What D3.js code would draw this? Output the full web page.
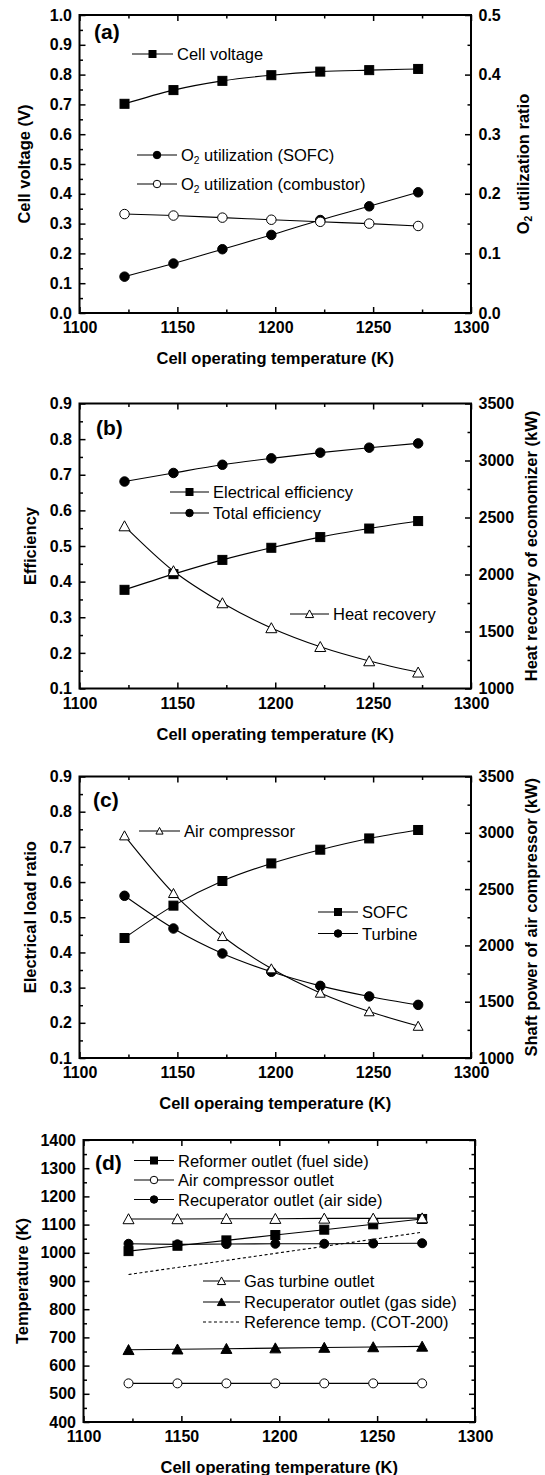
<!DOCTYPE html>
<html><head><meta charset="utf-8">
<script src="https://cdn.jsdelivr.net/npm/d3@7"></script>
<style>
body{margin:0;background:#fff}
svg{display:block}
text{font-family:"Liberation Sans",Arial,Helvetica,sans-serif;fill:#000}
</style>
</head><body>
<svg id="chart" width="545" height="1475"></svg>
<script>
// ---------- data ----------
const temps = [1123, 1148, 1173, 1198, 1223, 1248, 1273];
const xTickValues = [1100, 1150, 1200, 1250, 1300];

// panel (a)
const cellVoltage = [0.702, 0.748, 0.779, 0.798, 0.810, 0.815, 0.819];
const o2UtilSofc = [0.061, 0.083, 0.107, 0.131, 0.156, 0.179, 0.2025];
const o2UtilComb = [0.166, 0.1635, 0.160, 0.1565, 0.153, 0.150, 0.146];
const aLeftTicks = [0.0, 0.1, 0.2, 0.3, 0.4, 0.5, 0.6, 0.7, 0.8, 0.9, 1.0];
const aRightTicks = [0.0, 0.1, 0.2, 0.3, 0.4, 0.5];

// panel (b)
const elecEfficiency = [0.377, 0.421, 0.461, 0.495, 0.525, 0.549, 0.570];
const totalEfficiency = [0.681, 0.705, 0.728, 0.746, 0.762, 0.776, 0.788];
const heatRecovery = [2425, 2031, 1750, 1531, 1366, 1241, 1142];
const effTicks = [0.1, 0.2, 0.3, 0.4, 0.5, 0.6, 0.7, 0.8, 0.9];
const kwTicks = [1000, 1500, 2000, 2500, 3000, 3500];

// panel (c)
const loadSofc = [0.441, 0.533, 0.603, 0.653, 0.692, 0.724, 0.748];
const loadTurbine = [0.561, 0.468, 0.397, 0.345, 0.305, 0.275, 0.251];
const compressorPower = [2975, 2463, 2081, 1794, 1578, 1413, 1284];

// panel (d)
const reformerOutlet = [1006, 1025, 1044, 1063, 1082, 1101, 1120];
const airCompOutlet = [537, 537, 537, 537, 537, 537, 537];
const recupAirOutlet = [1032, 1030, 1031, 1032, 1032, 1033, 1034];
const gasTurbineOutlet = [1120, 1120, 1121, 1121, 1122, 1122, 1123];
const recupGasOutlet = [656, 658, 660, 662, 664, 666, 668];
const referenceTemp = [923, 948, 973, 998, 1023, 1048, 1073];
const tempTicks = [400, 500, 600, 700, 800, 900, 1000, 1100, 1200, 1300, 1400];

// ---------- drawing ----------
const svg = d3.select("#chart");
const FS_TICK = 16, FS_TITLE = 16.5, FS_LEG = 16.5;

function mids(arr) { return d3.pairs(arr).map(p => (p[0] + p[1]) / 2); }

function addParts(sel, parts, size) {
  parts.forEach(p => {
    if (p.sub) {
      sel.append("tspan").attr("font-size", size * 0.62).attr("dy", size * 0.28).text(p.t);
    } else if (p.after) {
      sel.append("tspan").attr("dy", -size * 0.28).text(p.t);
    } else {
      sel.append("tspan").text(p.t);
    }
  });
}

function marker(g, type, fill, cx, cy, s) {
  if (type === "square") {
    g.append("rect").attr("x", cx - s / 2).attr("y", cy - s / 2).attr("width", s).attr("height", s)
      .attr("fill", fill).attr("stroke", "#000").attr("stroke-width", 1);
  } else if (type === "circle") {
    g.append("circle").attr("cx", cx).attr("cy", cy).attr("r", s / 2)
      .attr("fill", fill).attr("stroke", "#000").attr("stroke-width", 1);
  } else if (type === "triangle") {
    const w = s * 1.1, h = s * 0.95;
    g.append("path").attr("d", `M${cx},${cy - h / 2 - 0.5}L${cx + w / 2},${cy + h / 2}L${cx - w / 2},${cy + h / 2}Z`)
      .attr("fill", fill).attr("stroke", "#000").attr("stroke-width", 1);
  }
}

function styleAxis(a, labels) {
  a.select(".domain").remove();
  a.attr("font-family", null).attr("font-size", null);
  a.selectAll(".tick line").attr("stroke", "#000").attr("stroke-width", 1.5);
  if (labels) a.selectAll(".tick text").attr("font-size", FS_TICK).attr("font-weight", "bold").attr("fill", "#000");
  else a.selectAll(".tick text").remove();
}

function drawPanel(c) {
  const g = svg.append("g");
  const x = d3.scaleLinear().domain([1100, 1300]).range([c.left, c.right]);
  const y = d3.scaleLinear().domain([c.yTicks[0], c.yTicks[c.yTicks.length - 1]]).range([c.bottom, c.top]);
  const y2 = c.y2Ticks ? d3.scaleLinear().domain([c.y2Ticks[0], c.y2Ticks[c.y2Ticks.length - 1]]).range([c.bottom, c.top]) : y;
  const xMinor = mids(xTickValues);
  const MJ = 6, MN = 3.5;

  // x axes
  styleAxis(g.append("g").attr("transform", `translate(0,${c.bottom})`)
    .call(d3.axisBottom(x).tickValues(xTickValues).tickSize(-MJ).tickPadding(9).tickFormat(d3.format("d"))), true);
  styleAxis(g.append("g").attr("transform", `translate(0,${c.bottom})`)
    .call(d3.axisBottom(x).tickValues(xMinor).tickSize(-MN)), false);
  styleAxis(g.append("g").attr("transform", `translate(0,${c.top})`)
    .call(d3.axisTop(x).tickValues(xTickValues).tickSize(-MJ)), false);
  styleAxis(g.append("g").attr("transform", `translate(0,${c.top})`)
    .call(d3.axisTop(x).tickValues(xMinor).tickSize(-MN)), false);
  // left axes
  styleAxis(g.append("g").attr("transform", `translate(${c.left},0)`)
    .call(d3.axisLeft(y).tickValues(c.yTicks).tickSize(-MJ).tickPadding(7.5).tickFormat(c.yFmt)), true);
  styleAxis(g.append("g").attr("transform", `translate(${c.left},0)`)
    .call(d3.axisLeft(y).tickValues(mids(c.yTicks)).tickSize(-MN)), false);
  // right axes
  const rT = c.y2Ticks || c.yTicks;
  styleAxis(g.append("g").attr("transform", `translate(${c.right},0)`)
    .call(d3.axisRight(y2).tickValues(rT).tickSize(-MJ).tickPadding(7.5).tickFormat(c.y2Fmt || c.yFmt)), !!c.y2Ticks);
  styleAxis(g.append("g").attr("transform", `translate(${c.right},0)`)
    .call(d3.axisRight(y2).tickValues(mids(rT)).tickSize(-MN)), false);

  // frame
  g.append("rect").attr("x", c.left).attr("y", c.top).attr("width", c.right - c.left).attr("height", c.bottom - c.top)
    .attr("fill", "none").attr("stroke", "#000").attr("stroke-width", 2);

  // series
  c.series.forEach(s => {
    const ys = s.right ? y2 : y;
    const line = d3.line().x((d, i) => x(temps[i])).y(d => ys(d)).curve(s.smooth ? d3.curveMonotoneX : d3.curveLinear);
    g.append("path").attr("d", line(s.data)).attr("fill", "none").attr("stroke", "#000")
      .attr("stroke-width", 1.1).attr("stroke-dasharray", s.dashed ? "3,2.5" : null);
    if (s.marker) s.data.forEach((d, i) => marker(g, s.marker, s.fill, x(temps[i]), ys(d), s.size));
  });

  // legend
  c.legend.forEach(l => {
    g.append("line").attr("x1", l.x1).attr("x2", l.x2).attr("y1", l.y).attr("y2", l.y)
      .attr("stroke", "#000").attr("stroke-width", 1.1).attr("stroke-dasharray", l.dashed ? "3,2.5" : null);
    if (l.marker) marker(g, l.marker, l.fill, (l.x1 + l.x2) / 2, l.y, l.size);
    const t = g.append("text").attr("x", l.x2 + 4).attr("y", l.y).attr("dominant-baseline", "central")
      .attr("font-size", FS_LEG);
    addParts(t, l.parts, FS_LEG);
  });

  // tag
  g.append("text").attr("x", c.tagX).attr("y", c.tagY).attr("dominant-baseline", "central")
    .attr("font-size", 21).attr("font-weight", "bold").text(c.tag);

  // titles
  g.append("text").attr("x", (c.left + c.right) / 2).attr("y", c.bottom + 45).attr("text-anchor", "middle")
    .attr("dominant-baseline", "central").attr("font-size", FS_TITLE).attr("font-weight", "bold").text(c.xTitle);
  const yc = (c.top + c.bottom) / 2;
  const lt = g.append("text").attr("transform", `translate(${c.yTitleX},${yc}) rotate(-90)`).attr("text-anchor", "middle")
    .attr("dominant-baseline", "central").attr("font-size", FS_TITLE).attr("font-weight", "bold");
  addParts(lt, c.yTitle, FS_TITLE);
  if (c.y2Title) {
    const rt = g.append("text").attr("transform", `translate(${c.y2TitleX},${yc}) rotate(-90)`).attr("text-anchor", "middle")
      .attr("dominant-baseline", "central").attr("font-size", FS_TITLE).attr("font-weight", "bold");
    addParts(rt, c.y2Title, FS_TITLE);
  }
}

const f1 = d3.format(".1f"), fd = d3.format("d");
const XT = "Cell operating temperature (K)";

drawPanel({
  top: 15, bottom: 313, left: 79.5, right: 471,
  yTicks: aLeftTicks, yFmt: f1, y2Ticks: aRightTicks, y2Fmt: f1,
  yTitle: [{t: "Cell voltage (V)"}], yTitleX: 24,
  y2Title: [{t: "O"}, {t: "2", sub: true}, {t: " utilization ratio", after: true}], y2TitleX: 523,
  xTitle: XT, tag: "(a)", tagX: 94, tagY: 31,
  series: [
    {data: cellVoltage, marker: "square", fill: "#000", size: 9, smooth: true},
    {data: o2UtilSofc, right: true, marker: "circle", fill: "#000", size: 9.5, smooth: true},
    {data: o2UtilComb, right: true, marker: "circle", fill: "#fff", size: 9.5, smooth: true}
  ],
  legend: [
    {x1: 132, x2: 173, y: 54, marker: "square", fill: "#000", size: 7, parts: [{t: "Cell voltage"}]},
    {x1: 137, x2: 177, y: 155, marker: "circle", fill: "#000", size: 7.5, parts: [{t: "O"}, {t: "2", sub: true}, {t: " utilization (SOFC)", after: true}]},
    {x1: 137, x2: 177, y: 184, marker: "circle", fill: "#fff", size: 7.5, parts: [{t: "O"}, {t: "2", sub: true}, {t: " utilization (combustor)", after: true}]}
  ]
});

drawPanel({
  top: 403.5, bottom: 688.5, left: 79.5, right: 471,
  yTicks: effTicks, yFmt: f1, y2Ticks: kwTicks, y2Fmt: fd,
  yTitle: [{t: "Efficiency"}], yTitleX: 30,
  y2Title: [{t: "Heat recovery of ecomomizer (kW)"}], y2TitleX: 531,
  xTitle: XT, tag: "(b)", tagX: 96, tagY: 427,
  series: [
    {data: totalEfficiency, marker: "circle", fill: "#000", size: 9.5, smooth: true},
    {data: elecEfficiency, marker: "square", fill: "#000", size: 9, smooth: true},
    {data: heatRecovery, right: true, marker: "triangle", fill: "#fff", size: 10, smooth: true}
  ],
  legend: [
    {x1: 170, x2: 209, y: 492, marker: "square", fill: "#000", size: 7, parts: [{t: "Electrical efficiency"}]},
    {x1: 170, x2: 209, y: 513, marker: "circle", fill: "#000", size: 7.5, parts: [{t: "Total efficiency"}]},
    {x1: 290, x2: 329, y: 614, marker: "triangle", fill: "#fff", size: 7.5, parts: [{t: "Heat recovery"}]}
  ]
});

drawPanel({
  top: 776.5, bottom: 1058, left: 79.5, right: 471,
  yTicks: effTicks, yFmt: f1, y2Ticks: kwTicks, y2Fmt: fd,
  yTitle: [{t: "Electrical load ratio"}], yTitleX: 30,
  y2Title: [{t: "Shaft power of air compressor (kW)"}], y2TitleX: 531,
  xTitle: "Cell operaing temperature (K)", tag: "(c)", tagX: 93, tagY: 799,
  series: [
    {data: loadSofc, marker: "square", fill: "#000", size: 9, smooth: true},
    {data: loadTurbine, marker: "circle", fill: "#000", size: 9.5, smooth: true},
    {data: compressorPower, right: true, marker: "triangle", fill: "#fff", size: 9, smooth: true}
  ],
  legend: [
    {x1: 139, x2: 180, y: 831, marker: "triangle", fill: "#fff", size: 6.5, parts: [{t: "Air compressor"}]},
    {x1: 318, x2: 358, y: 912, marker: "square", fill: "#000", size: 7, parts: [{t: "SOFC"}]},
    {x1: 318, x2: 358, y: 933.5, marker: "circle", fill: "#000", size: 7.5, parts: [{t: "Turbine"}]}
  ]
});

drawPanel({
  top: 1140, bottom: 1422, left: 83.5, right: 475,
  yTicks: tempTicks, yFmt: fd,
  yTitle: [{t: "Temperature (K)"}], yTitleX: 22,
  xTitle: XT, tag: "(d)", tagX: 95, tagY: 1162,
  series: [
    {data: referenceTemp, dashed: true},
    {data: airCompOutlet, marker: "circle", fill: "#fff", size: 9, smooth: false},
    {data: recupGasOutlet, marker: "triangle", fill: "#000", size: 10, smooth: false},
    {data: recupAirOutlet, marker: "circle", fill: "#000", size: 9, smooth: false},
    {data: reformerOutlet, marker: "square", fill: "#000", size: 9, smooth: false},
    {data: gasTurbineOutlet, marker: "triangle", fill: "#fff", size: 10, smooth: false}
  ],
  legend: [
    {x1: 134, x2: 174, y: 1160.5, marker: "square", fill: "#000", size: 7, parts: [{t: "Reformer outlet (fuel side)"}]},
    {x1: 134, x2: 174, y: 1180, marker: "circle", fill: "#fff", size: 7.5, parts: [{t: "Air compressor outlet"}]},
    {x1: 134, x2: 174, y: 1199.5, marker: "circle", fill: "#000", size: 7.5, parts: [{t: "Recuperator outlet (air side)"}]},
    {x1: 203, x2: 240, y: 1281, marker: "triangle", fill: "#fff", size: 7.5, parts: [{t: "Gas turbine outlet"}]},
    {x1: 203, x2: 240, y: 1302, marker: "triangle", fill: "#000", size: 7.5, parts: [{t: "Recuperator outlet (gas side)"}]},
    {x1: 203, x2: 240, y: 1322, dashed: true, parts: [{t: "Reference temp. (COT-200)"}]}
  ]
});
</script>
</body></html>
